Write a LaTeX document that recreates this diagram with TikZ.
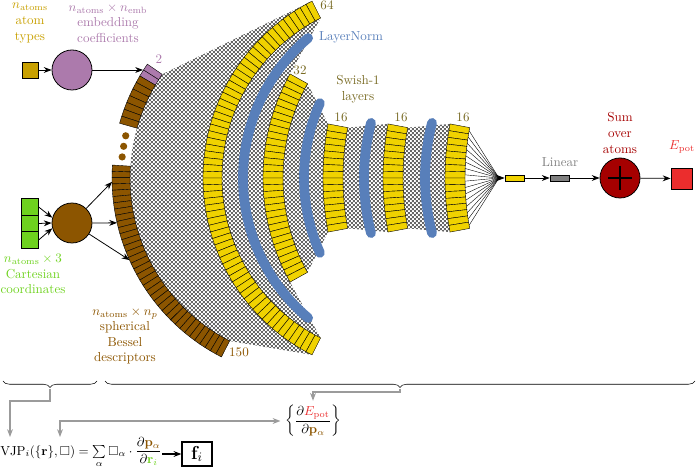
\documentclass[tikz,border=0pt]{standalone}
\usepackage{amsmath,amssymb}
\usetikzlibrary{arrows.meta, patterns, decorations.pathreplacing}

\definecolor{typecol}{RGB}{200,160,0}
\definecolor{embcol}{RGB}{172,122,172}
\definecolor{cartcol}{RGB}{110,210,30}
\definecolor{desccol}{RGB}{140,85,0}
\definecolor{layercol}{RGB}{240,210,0}
\definecolor{normcol}{RGB}{88,127,186}
\definecolor{swishcol}{RGB}{120,106,35}
\definecolor{lincol}{RGB}{128,128,128}
\definecolor{sumcol}{RGB}{165,0,0}
\definecolor{epotcol}{RGB}{235,45,45}
\definecolor{arrgray}{RGB}{155,155,155}

\pgfdeclarepatternformonly{finecheck}{\pgfpointorigin}{\pgfqpoint{3pt}{3pt}}{\pgfqpoint{3pt}{3pt}}{%
  \pgfpathrectangle{\pgfpointorigin}{\pgfqpoint{1.5pt}{1.5pt}}%
  \pgfpathrectangle{\pgfqpoint{1.5pt}{1.5pt}}{\pgfqpoint{1.5pt}{1.5pt}}%
  \pgfusepath{fill}}

\tikzset{
  neuron/.style = {draw=black, line width=0.3pt},
  densemesh/.style = {pattern=finecheck, pattern color=black!60},
  normline/.style = {draw=normcol, line width=7.5pt, line cap=round},
  fanline/.style = {line width=0.3pt},
  arr/.style = {-{Stealth[length=6pt,width=4.5pt]}, semithick},
  garr/.style = {-{Stealth[length=6pt,width=4.5pt]}, line width=1pt, draw=arrgray},
  typebox/.style = {rectangle, draw, semithick, fill=typecol, minimum size=0.43cm, inner sep=0pt},
  embnode/.style = {circle, draw, semithick, fill=embcol, minimum size=1.08cm, inner sep=0pt},
  cartbox/.style = {rectangle, draw, semithick, fill=cartcol, minimum size=0.445cm, inner sep=0pt},
  descnode/.style = {circle, draw, semithick, fill=desccol, minimum size=1.08cm, inner sep=0pt},
  thinbox/.style = {rectangle, draw, semithick, minimum width=0.51cm, minimum height=0.16cm, inner sep=0pt},
  sumnode/.style = {circle, draw, semithick, fill=sumcol, minimum size=1.08cm, inner sep=0pt},
  epotbox/.style = {rectangle, draw, semithick, fill=epotcol, minimum size=0.57cm, inner sep=0pt},
  lbl/.style = {align=center, inner sep=1pt}
}

\begin{document}
\begin{tikzpicture}[x=0.027cm, y=-0.027cm]
\useasboundingbox (0,0) rectangle (699,470);

% dense connections between layers
\fill[densemesh] ([shift={(313,178)}]214.5:183) arc[start angle=214.5, end angle=117, radius=183]
  -- ([shift={(401,178)}]116.7:198) arc[start angle=116.7, end angle=243.3, radius=198] -- cycle;
\foreach \ca/\ra/\ta/\cb/\rb/\tb in {401/179/243.3/477/214/209.1, 477/194/209.1/617/294/190.6,
    617/274/190.6/677/294/190.6, 677/274/190.6/739/294/190.6} {
  \fill[densemesh] ([shift={(\ca,178)}]\ta:\ra) arc[start angle=\ta, end angle=360-\ta, radius=\ra]
    -- ([shift={(\cb,178)}]360-\tb:\rb) arc[start angle=360-\tb, end angle=\tb, radius=\rb] -- cycle;
}

% LayerNorm
\foreach \cx/\r/\ta in {426/183/229.9, 488/184/204, 584/220/194.5, 645/220/194.5}
  \draw[normline] ([shift={(\cx,178)}]\ta:\r) arc[start angle=\ta, end angle=360-\ta, radius=\r];

% descriptor layer
\foreach \ta/\stp/\nb/\col in {214.5/2/2/embcol, 210.5/2.1/7/desccol, 183.7/1.8/37/desccol} {
  \foreach \i in {1,...,\nb} {
    \pgfmathsetmacro\angA{\ta-(\i-1)*\stp}
    \pgfmathsetmacro\angB{\ta-\i*\stp}
    \draw[neuron, fill=\col] ([shift={(313,178)}]\angA:201) arc[start angle=\angA, end angle=\angB, radius=201]
      -- ([shift={(313,178)}]\angB:183) arc[start angle=\angB, end angle=\angA, radius=183] -- cycle;
  }
}
\foreach \t in {186.3,189.5,192.7}
  \fill[desccol] ([shift={(313,178)}]\t:192) circle[radius=3.6];

% hidden layers
\foreach \cx/\ro/\ri/\ta/\nb in {401/198/179/243.3/64, 477/214/194/209.1/32,
    617/294/274/190.6/16, 677/294/274/190.6/16, 739/294/274/190.6/16} {
  \pgfmathsetmacro\stp{2*(\ta-180)/\nb}
  \foreach \i in {1,...,\nb} {
    \pgfmathsetmacro\angA{\ta-(\i-1)*\stp}
    \pgfmathsetmacro\angB{\ta-\i*\stp}
    \draw[neuron, fill=layercol] ([shift={(\cx,178)}]\angA:\ro) arc[start angle=\angA, end angle=\angB, radius=\ro]
      -- ([shift={(\cx,178)}]\angB:\ri) arc[start angle=\angB, end angle=\angA, radius=\ri] -- cycle;
  }
}

% output part
\coordinate (fanpt) at (499,178);
\foreach \i in {1,...,16}
  \draw[fanline] ([shift={(739,178)}]190.6-\i*1.325+0.6625:274) -- (fanpt);
\node[thinbox, fill=layercol] (hid) at (514.5,178) {};
\node[thinbox, fill=lincol] (lin) at (559.5,178) {};
\node[sumnode] (sum) at (620,178) {};
\draw[thick] ([xshift=-0.33cm]sum.center) -- ([xshift=0.33cm]sum.center);
\draw[thick] ([yshift=-0.33cm]sum.center) -- ([yshift=0.33cm]sum.center);
\node[epotbox] (epot) at (681.5,178.5) {};
\draw[arr] (fanpt) -- (hid);
\draw[arr] (hid) -- (lin);
\draw[arr] (lin) -- (sum);
\draw[arr] (sum) -- (epot);

% inputs
\node[typebox] (types) at (30,70) {};
\node[embnode] (emb) at (72,70) {};
\coordinate (embin) at (143,70);
\draw[arr] (types) -- (emb);
\draw[arr] (emb) -- (embin);

\node[cartbox] (x1) at (30,207) {};
\node[cartbox] (x2) at (30,223.5) {};
\node[cartbox] (x3) at (30,240) {};
\node[descnode] (sbd) at (72,223) {};
\draw[arr] (x1.east) -- (sbd.165);
\draw[arr] (x2.east) -- (sbd.west);
\draw[arr] (x3.east) -- (sbd.195);
\coordinate (d1) at ([shift={(313,178)}]178.9:201);
\coordinate (d2) at ([shift={(313,178)}]167.1:201);
\coordinate (d3) at ([shift={(313,178)}]155.9:201);
\draw[arr] (sbd) -- (d1);
\draw[arr] (sbd) -- (d2);
\draw[arr] (sbd) -- (d3);

% labels
\node[lbl, text=typecol] (typelbl) at (30,23) {$n_\mathrm{atoms}$\\atom\\types};
\node[lbl, text=embcol] (emblbl) at (108,23) {$n_\mathrm{atoms}\times n_\mathrm{emb}$\\embedding\\coefficients};
\node[lbl, text=cartcol] (cartlbl) at (33,274) {$n_\mathrm{atoms}\times 3$\\Cartesian\\coordinates};
\node[lbl, text=desccol] (desclbl) at (125,336) {$n_\mathrm{atoms}\times n_p$\\spherical\\Bessel\\descriptors};
\node[text=embcol] (nemb) at (159,59) {2};
\node[text=desccol] (ndesc) at (239,352) {150};
\node[text=swishcol] (n64) at (327,5) {64};
\node[text=normcol] (normlbl) at (351,37) {LayerNorm};
\node[text=swishcol] (n32) at (300,70) {32};
\node[lbl, text=swishcol] (swishlbl) at (358,89) {Swish-1\\layers};
\foreach \x/\nm in {341/a, 401/b, 463/c}
  \node[text=swishcol] (n16\nm) at (\x,117) {16};
\node[text=lincol] (linlbl) at (560,162) {Linear};
\node[lbl, text=sumcol] (sumlbl) at (620,133) {Sum\\over\\atoms};
\node[text=epotcol] (epotlbl) at (682,147) {$E_\mathrm{pot}$};

% gradients
\draw[decorate, decoration={brace, mirror, amplitude=5pt}] (3,381) -- (97,381);
\draw[decorate, decoration={brace, mirror, amplitude=5pt}] (105,381) -- (695,381);
\coordinate (lbr) at (50,389);
\coordinate (rbr) at (400,389);
\node[anchor=base west, inner sep=0pt] (vjp) at (0,455)
  {$\mathrm{VJP}_i(\{\mathbf{r}\},\square)=\sum\limits_{\alpha}\square_\alpha\cdot\dfrac{\partial\textcolor{desccol}{\mathbf{p}_\alpha}}{\partial\textcolor{cartcol}{\mathbf{r}_i}}$};
\node[draw, very thick, font=\Large, minimum width=0.8cm, minimum height=0.66cm, inner sep=2pt] (force) at (197,454) {$\mathbf{f}_i$};
\node (dedp) at (313,421) {$\left\{\dfrac{\partial\textcolor{epotcol}{E_\mathrm{pot}}}{\partial\textcolor{desccol}{\mathbf{p}_\alpha}}\right\}$};
\coordinate (vjpa) at (10,437);
\coordinate (vjpb) at (60,437);
\draw[garr] (lbr) -- ++(0,12) -| (vjpa);
\draw[garr] (rbr) -- ++(0,3) -| (dedp.north);
\draw[garr, {Stealth[length=6pt,width=4.5pt]}-{Stealth[length=6pt,width=4.5pt]}] (vjpb) |- (dedp.west);
\draw[arr, thick] (vjp.east |- force.west) -- (force.west);
\end{tikzpicture}
\end{document}
